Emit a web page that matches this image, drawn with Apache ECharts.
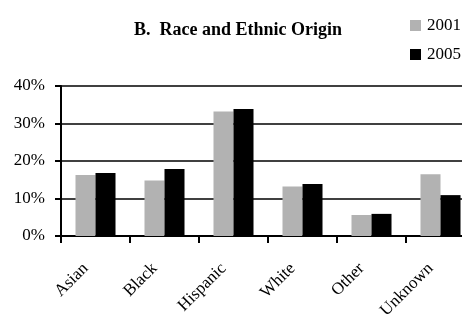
<!DOCTYPE html>
<html>
<head>
<meta charset="utf-8">
<style>
  html, body { margin: 0; padding: 0; background: #fff; }
  #chart { width: 462px; height: 314px; }
</style>
<script src="https://cdn.jsdelivr.net/npm/echarts@6/dist/echarts.min.js"></script>
</head>
<body>
<div id="chart"></div>
<script>
// 数据
const categories = ["Asian", "Black", "Hispanic", "White", "Other", "Unknown"];
const values2001 = [16.3, 14.8, 33.2, 13.2, 5.6, 16.5];
const values2005 = [16.8, 17.9, 33.9, 13.9, 5.9, 10.9];
const yTicks     = [0, 10, 20, 30, 40];

const serif = "'Liberation Serif', 'DejaVu Serif', serif";

let chart = echarts.init(document.getElementById('chart'));
let option = {
    backgroundColor: '#fff',
    animation: false,
    title: {
        text: 'B.  Race and Ethnic Origin',
        left: 134,
        top: 21,
        padding: 0,
        textStyle: { fontFamily: serif, fontSize: 18, fontWeight: 'bold', color: '#000' }
    },
    legend: {
        orient: 'vertical',
        left: 410,
        top: 17,
        padding: 0,
        itemWidth: 11,
        itemHeight: 11,
        itemGap: 12,
        icon: 'rect',
        textStyle: { fontFamily: serif, fontSize: 17, color: '#000', padding: [0, 0, 0, 1] },
        data: ['2001', '2005']
    },
    grid: { left: 61, top: 86, width: 414, height: 150, containLabel: false, outerBoundsMode: 'none' },
    xAxis: {
        type: 'category',
        data: categories,
        axisLine: { lineStyle: { color: '#000', width: 2 } },
        axisTick: { show: true, length: 7, lineStyle: { color: '#000', width: 2 } },
        axisLabel: {
            rotate: 45,
            margin: 20,
            padding: [0, 14, 0, 0],
            fontFamily: serif,
            fontSize: 17,
            color: '#000'
        }
    },
    yAxis: {
        type: 'value',
        min: yTicks[0],
        max: yTicks[yTicks.length - 1],
        interval: 10,
        axisLine: { show: true, lineStyle: { color: '#000', width: 2 } },
        axisTick: { show: true, length: 6, lineStyle: { color: '#000', width: 2 } },
        splitLine: { lineStyle: { color: '#000', width: 1.5 } },
        axisLabel: {
            formatter: '{value}%',
            margin: 16,
            fontFamily: serif,
            fontSize: 17,
            color: '#000'
        }
    },
    series: [
        {
            name: '2001',
            type: 'bar',
            data: values2001,
            itemStyle: { color: '#b2b2b2' },
            barGap: '0%',
            barCategoryGap: '42%'
        },
        {
            name: '2005',
            type: 'bar',
            data: values2005,
            itemStyle: { color: '#000' },
            barGap: '0%',
            barCategoryGap: '42%'
        }
    ]
};
chart.setOption(option);
</script>
</body>
</html>
